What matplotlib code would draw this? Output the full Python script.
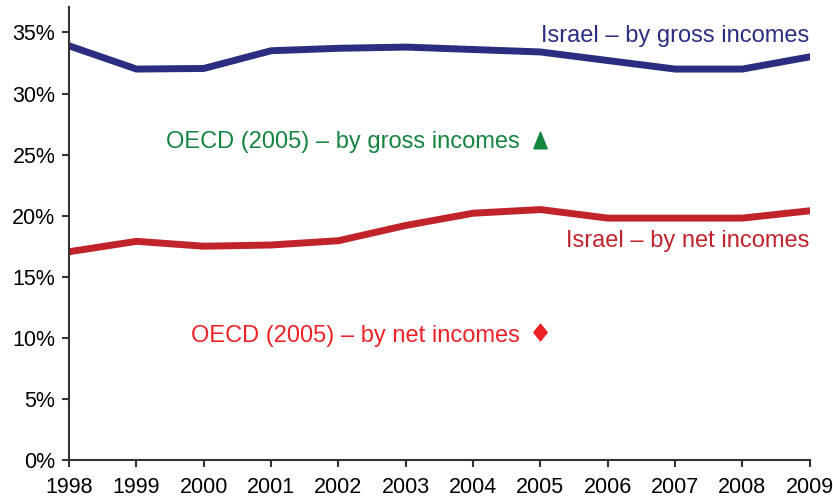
import matplotlib.pyplot as plt
from matplotlib.ticker import FuncFormatter

plt.rcParams['font.family'] = ['Liberation Sans', 'DejaVu Sans']

years = [1998, 1999, 2000, 2001, 2002, 2003, 2004, 2005, 2006, 2007, 2008, 2009]
gross = [33.9, 32.0, 32.05, 33.5, 33.7, 33.8, 33.6, 33.4, 32.7, 32.0, 32.0, 33.0]
net = [17.05, 17.9, 17.5, 17.6, 17.95, 19.2, 20.2, 20.5, 19.8, 19.8, 19.8, 20.4]
oecd_year = 2005
oecd_gross = 26.2
oecd_net = 10.45

blue = '#2b2e80'
red = '#c1232b'
green = '#14843f'
bright_red = '#ed2227'

# narrow, tall marker shapes
tall_triangle = [(-0.8, -1), (0.8, -1), (0, 1), (-0.8, -1)]
tall_diamond = [(0, 1), (0.8, 0), (0, -1), (-0.8, 0), (0, 1)]

fig = plt.figure(figsize=(8.33, 4.97), dpi=100)
ax = fig.add_axes([0.083, 0.0744, 0.889, 0.912])

ax.plot(years, gross, color=blue, linewidth=5, solid_joinstyle='miter')
ax.plot(years, net, color=red, linewidth=5, solid_joinstyle='miter')
ax.plot([oecd_year], [oecd_gross], marker=tall_triangle, color=green, markersize=12, linestyle='none')
ax.plot([oecd_year], [oecd_net], marker=tall_diamond, color=bright_red, markersize=12, linestyle='none')

ax.text(2009, 34.2, 'Israel – by gross incomes', color=blue, fontsize=17, ha='right', va='baseline')
ax.text(2009, 17.46, 'Israel – by net incomes', color=red, fontsize=17, ha='right', va='baseline')
ax.text(2004.7, 25.5, 'OECD (2005) – by gross incomes', color=green, fontsize=17, ha='right', va='baseline')
ax.text(2004.7, 9.67, 'OECD (2005) – by net incomes', color=bright_red, fontsize=17, ha='right', va='baseline')

ax.set_xlim(1998, 2009)
ax.set_ylim(0, 37.1)
ax.set_xticks(years)
ax.set_yticks(range(0, 36, 5))
ax.yaxis.set_major_formatter(FuncFormatter(lambda v, _: f'{v:.0f}%'))

for side in ('top', 'right'):
    ax.spines[side].set_visible(False)
for side in ('left', 'bottom'):
    ax.spines[side].set_color('#333333')
    ax.spines[side].set_linewidth(1.5)
ax.tick_params(axis='both', labelsize=15.5, length=5, width=1.5, color='#333333')
ax.tick_params(axis='x', pad=7)
ax.tick_params(axis='y', pad=5)

fig.savefig('out.png', dpi=100)
